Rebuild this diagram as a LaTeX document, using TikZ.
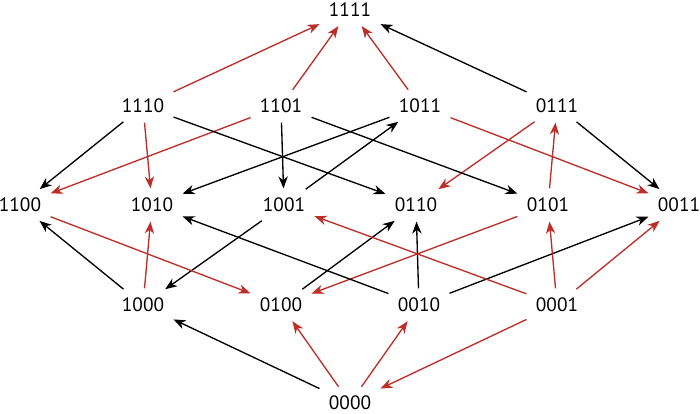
\documentclass[tikz,border=0pt]{standalone}
\usepackage{fontspec}
\setmainfont{PT Sans}
\usetikzlibrary{arrows.meta}
\definecolor{edgered}{RGB}{190,45,40}
\tikzset{
  bits/.style={inner sep=5.5pt,font=\fontsize{14.5}{17}\selectfont},
  fb/.style={-{Stealth[length=9pt,width=7pt,inset=2.8pt]},line width=1pt,
             shorten >=1.5pt,shorten <=1.5pt},
  fr/.style={fb,edgered},
}
\begin{document}
\begin{tikzpicture}[x=0.75pt, y=-0.75pt]
  \useasboundingbox (0,0) rectangle (700,414);
  % rank 4
  \node[bits] (n1111) at (350,10) {1111};
  % rank 3
  \node[bits] (n1110) at (143,106) {1110};
  \node[bits] (n1101) at (281,106) {1101};
  \node[bits] (n1011) at (420,106) {1011};
  \node[bits] (n0111) at (557,106) {0111};
  % rank 2
  \node[bits] (n1100) at (20,205) {1100};
  \node[bits] (n1010) at (152,205) {1010};
  \node[bits] (n1001) at (284,205) {1001};
  \node[bits] (n0110) at (416,205) {0110};
  \node[bits] (n0101) at (548,205) {0101};
  \node[bits] (n0011) at (679,205) {0011};
  % rank 1
  \node[bits] (n1000) at (143,305) {1000};
  \node[bits] (n0100) at (281,305) {0100};
  \node[bits] (n0010) at (419,305) {0010};
  \node[bits] (n0001) at (557,305) {0001};
  % rank 0
  \node[bits] (n0000) at (350,403) {0000};
  % 0 -- 1
  \draw[fb] (n0000) -- (n1000);
  \draw[fr] (n0000) -- (n0100);
  \draw[fr] (n0000) -- (n0010);
  \draw[fr] (n0001) -- (n0000);
  % 1 -- 2
  \draw[fb] (n1000) -- (n1100);
  \draw[fr] (n1000) -- (n1010);
  \draw[fb] (n1001) -- (n1000);
  \draw[fr] (n1100) -- (n0100);
  \draw[fb] (n0100) -- (n0110);
  \draw[fr] (n0101) -- (n0100);
  \draw[fb] (n0010) -- (n0110);
  \draw[fb] (n0010) -- (n1010);
  \draw[fb] (n0010) -- (n0011);
  \draw[fr] (n0001) -- (n1001);
  \draw[fr] (n0001) -- (n0101);
  \draw[fr] (n0001) -- (n0011);
  % 2 -- 3
  \draw[fb] (n1110) -- (n1100);
  \draw[fr] (n1101) -- (n1100);
  \draw[fr] (n1110) -- (n1010);
  \draw[fb] (n1011) -- (n1010);
  \draw[fb] (n1101) -- (n1001);
  \draw[fb] (n1001) -- (n1011);
  \draw[fb] (n1110) -- (n0110);
  \draw[fr] (n0111) -- (n0110);
  \draw[fb] (n1101) -- (n0101);
  \draw[fr] (n0101) -- (n0111);
  \draw[fr] (n1011) -- (n0011);
  \draw[fb] (n0111) -- (n0011);
  % 3 -- 4
  \draw[fr] (n1110) -- (n1111);
  \draw[fr] (n1101) -- (n1111);
  \draw[fr] (n1011) -- (n1111);
  \draw[fb] (n0111) -- (n1111);
\end{tikzpicture}
\end{document}
